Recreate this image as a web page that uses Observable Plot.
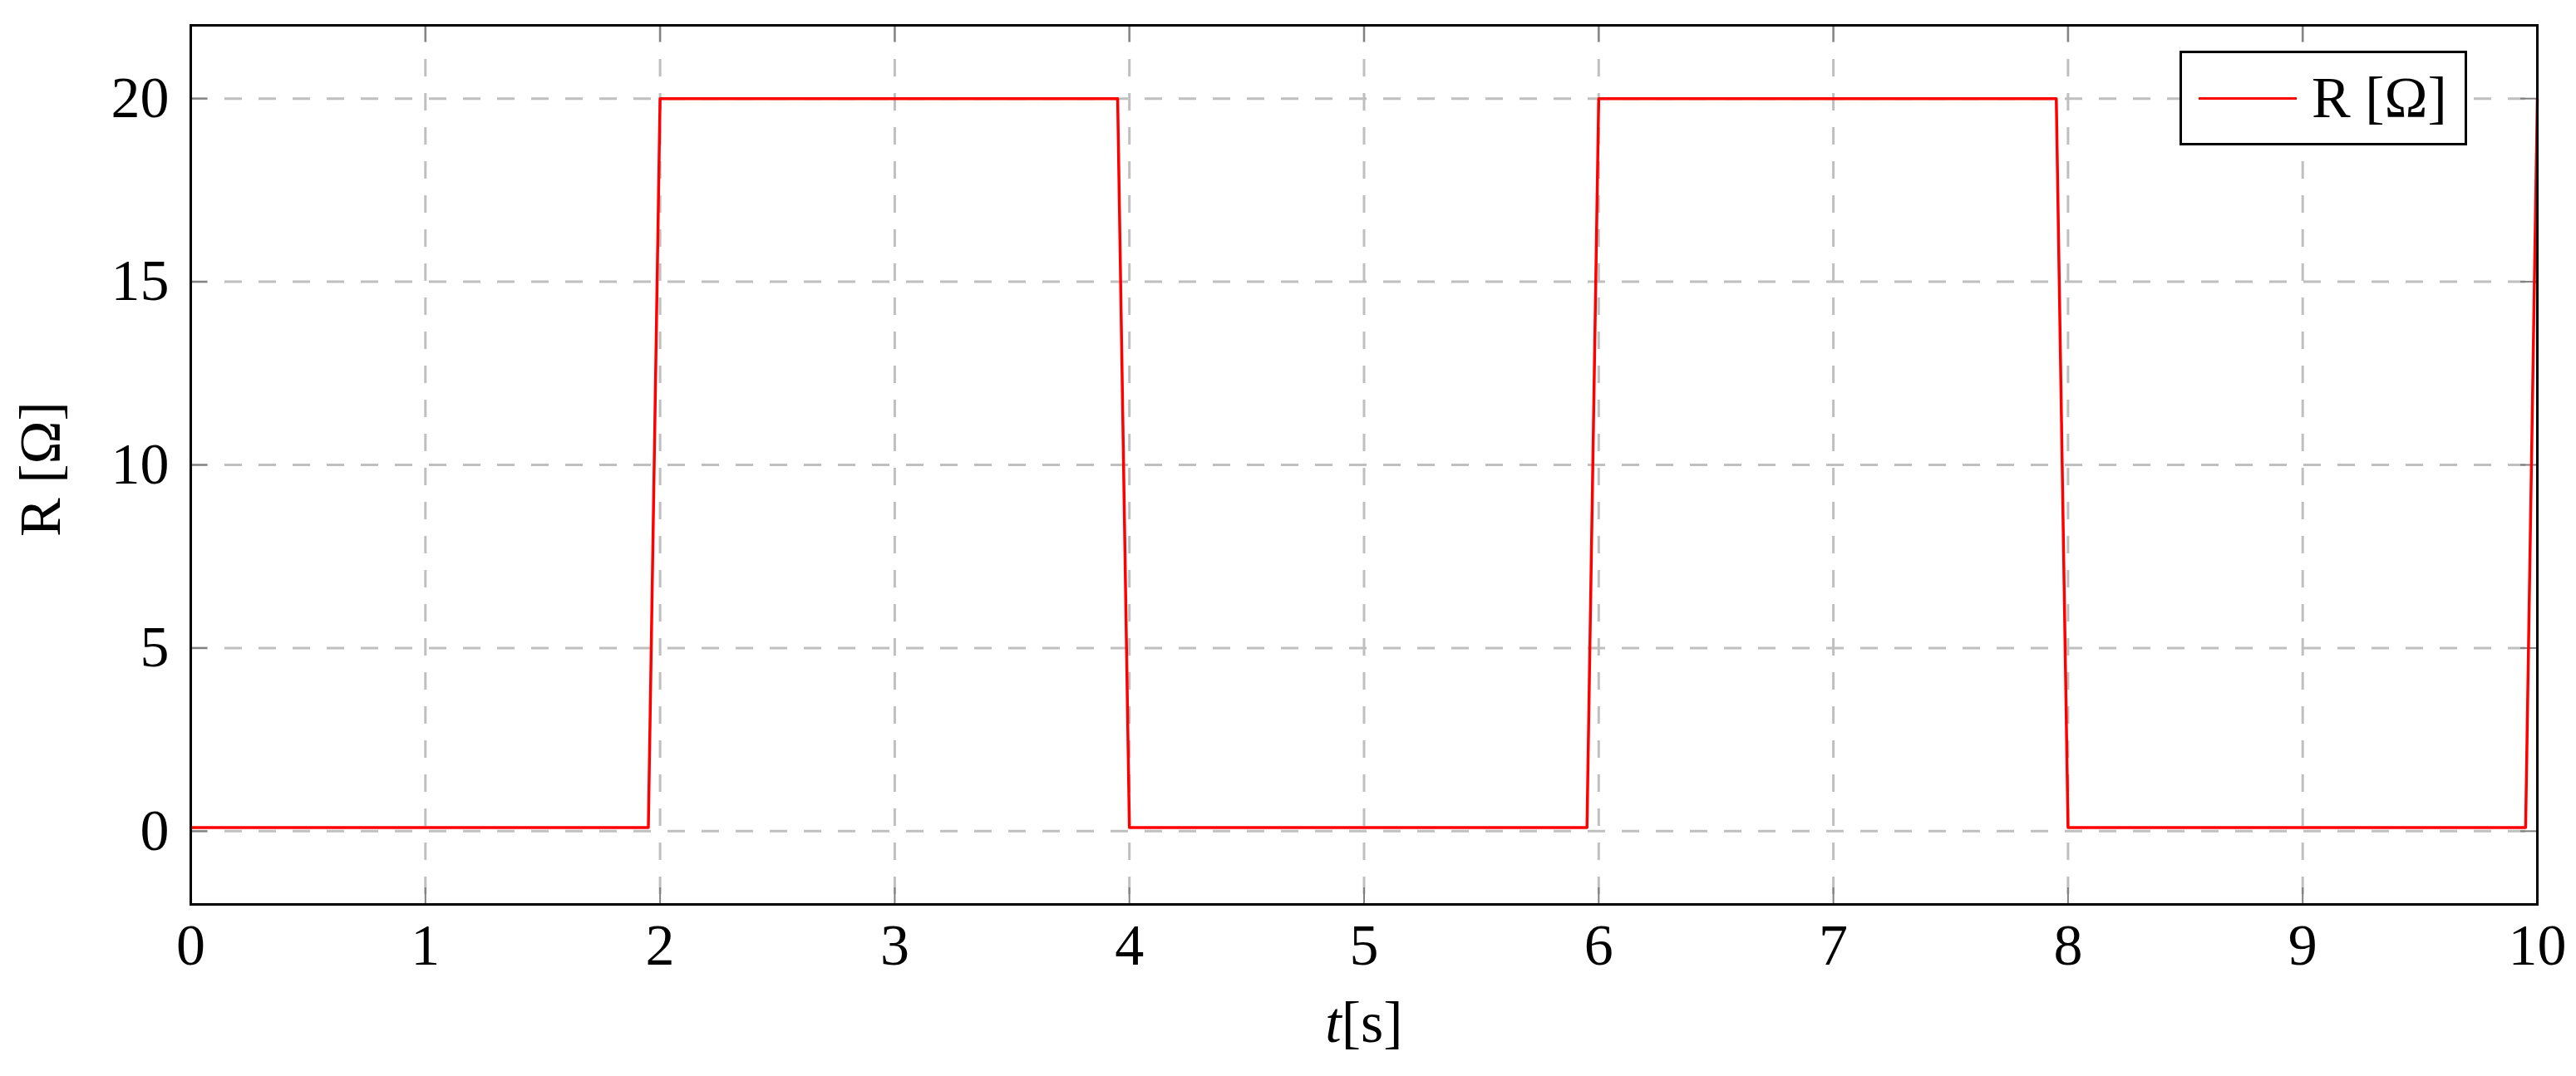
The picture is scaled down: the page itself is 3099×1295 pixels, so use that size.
<!DOCTYPE html>
<html>
<head>
<meta charset="utf-8">
<script src="https://cdn.jsdelivr.net/npm/d3@7"></script>
<script src="https://cdn.jsdelivr.net/npm/@observablehq/plot@0.6"></script>
<style>
  html, body { margin: 0; padding: 0; background: #fff; }
  #wrap { position: relative; width: 3099px; height: 1295px; }
  #wrap svg { display: block; }
  .legend {
    position: absolute; left: 2622px; top: 61px; width: 340px; height: 108px;
    border: 3px solid #000; background: #fff; font-family: "Liberation Serif", serif;
    font-size: 70px; display: flex; align-items: center; white-space: pre;
  }
  .legend .swatch { display: inline-block; width: 118px; height: 3px; background: #ff0000; margin-left: 20px; margin-right: 18px; }
</style>
</head>
<body>
<div id="wrap"></div>
<script>
// Data
const times      = [0,   1.95, 2,  3.95, 4,   5.95, 6,  7.95, 8,   9.95, 10];
const resistance = [0.1, 0.1,  20, 20,   0.1, 0.1,  20, 20,   0.1, 0.1,  20];
const xTicks = [0, 1, 2, 3, 4, 5, 6, 7, 8, 9, 10];
const yTicks = [0, 5, 10, 15, 20];
const xLabel = "t[s]";
const yLabel = "R [Ω]";
const seriesName = "R [Ω]";

const rows = times.map((t, i) => ({t, r: resistance[i]}));

const W = 3099, H = 1295;
const mL = 229, mR = 47, mT = 30, mB = 207;
const innerW = W - mL - mR, innerH = H - mT - mB;
const tickLen = 20;
const font = "Liberation Serif, serif";
const fmt = d => String(d);

const chart = Plot.plot({
  width: W,
  height: H,
  marginLeft: mL,
  marginRight: mR,
  marginTop: mT,
  marginBottom: mB,
  style: {fontFamily: font, fontSize: "70px", background: "#fff", color: "#000"},
  x: {domain: [0, 10]},
  y: {domain: [-2, 22]},
  marks: [
    Plot.gridX(xTicks, {stroke: "#bfbfbf", strokeOpacity: 1, strokeWidth: 3, strokeDasharray: "21,20"}),
    Plot.gridY(yTicks, {stroke: "#bfbfbf", strokeOpacity: 1, strokeWidth: 3, strokeDasharray: "21,20"}),
    // inward tick marks on all four sides
    Plot.tickX(xTicks, {x: d => d, stroke: "#808080", strokeWidth: 2, insetTop: innerH - tickLen}),
    Plot.tickX(xTicks, {x: d => d, stroke: "#808080", strokeWidth: 2, insetBottom: innerH - tickLen}),
    Plot.tickY(yTicks, {y: d => d, stroke: "#808080", strokeWidth: 2, insetRight: innerW - tickLen}),
    Plot.tickY(yTicks, {y: d => d, stroke: "#808080", strokeWidth: 2, insetLeft: innerW - tickLen}),
    Plot.line(rows, {x: "t", y: "r", stroke: "#ff0000", strokeWidth: 3.5, curve: "linear"}),
    Plot.frame({stroke: "#000", strokeWidth: 3}),
    Plot.axisX(xTicks, {anchor: "bottom", tickSize: 0, tickPadding: 23, label: null, fontSize: 70, fill: "#000", tickFormat: fmt}),
    Plot.axisY(yTicks, {anchor: "left", tickSize: 0, tickPadding: 26, label: null, fontSize: 70, fill: "#000", tickFormat: fmt}),
    Plot.text([xLabel], {frameAnchor: "bottom", dy: 165, lineAnchor: "bottom", textAnchor: "middle", fontSize: 70, fill: "#000", text: d => d}),
    Plot.text([yLabel], {frameAnchor: "left", dx: -158, dy: 5, rotate: -90, lineAnchor: "bottom", textAnchor: "middle", fontSize: 70, fill: "#000", text: d => d})
  ]
});

document.getElementById("wrap").appendChild(chart);

// Italic "t" in the x label
d3.select(chart).selectAll("text").each(function() {
  if (this.textContent === xLabel) {
    const el = d3.select(this);
    el.text(null);
    el.append("tspan").attr("font-style", "italic").text("t");
    el.append("tspan").text("[s]");
  }
});

// Legend inside the plot area (top-right)
const legend = document.createElement("div");
legend.className = "legend";
const sw = document.createElement("span");
sw.className = "swatch";
const lab = document.createElement("span");
lab.textContent = seriesName;
legend.appendChild(sw);
legend.appendChild(lab);
document.getElementById("wrap").appendChild(legend);
</script>
</body>
</html>
